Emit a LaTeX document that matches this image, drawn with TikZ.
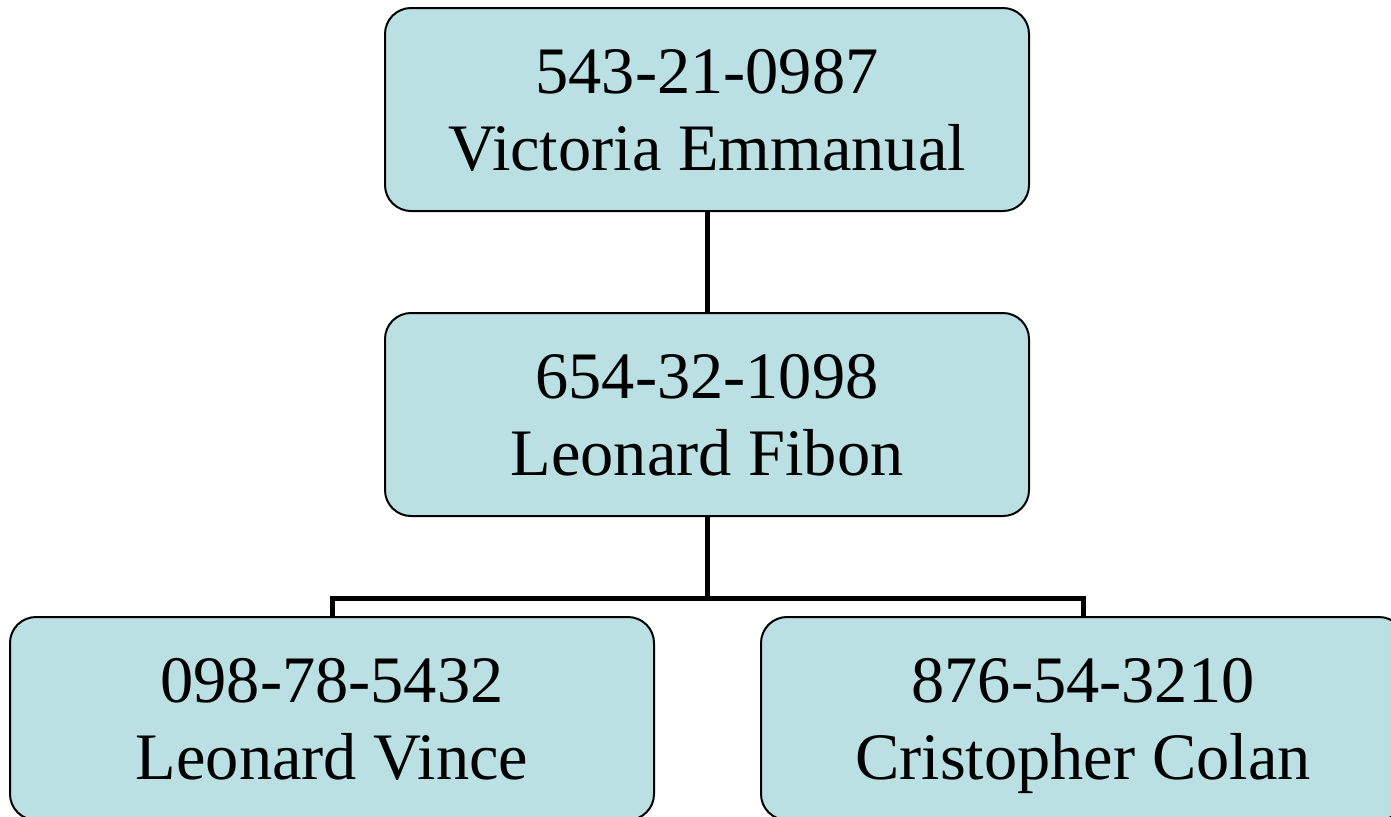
\documentclass[tikz,border=0pt]{standalone}
\usepackage{fontspec}
\setmainfont{Liberation Serif}
\usetikzlibrary{positioning}
\definecolor{boxfill}{RGB}{186,224,228}

\begin{document}
\begin{tikzpicture}[x=0.5pt,y=-0.5pt,
    person/.style={draw=black, line width=1pt, fill=boxfill, rounded corners=13pt,
      minimum width=322pt, minimum height=101.5pt, align=center,
      font=\fontsize{33.2}{38.5}\selectfont, text depth=0pt},
    link/.style={line width=2.5pt}]
    \useasboundingbox (0,0) rectangle (1391,816);
    \clip (0,0) rectangle (1391,816);

    % boss and manager
    \node[person] (boss) at (707,109.5) {543-21-0987\\Victoria Emmanual};
    \node[person] (manager) at (707,414.5) {654-32-1098\\Leonard Fibon};

    % staff
    \node[person] (staff1) at (332,718.5) {098-78-5432\\Leonard Vince};
    \node[person] (staff2) at (1083,718.5) {876-54-3210\\Cristopher Colan};

    \coordinate (split) at (707,598);
    \draw[link] (boss) -- (manager);
    \draw[link] (manager) -- (split);
    \foreach \to in {staff1,staff2}
    \draw[link] (split) -| (\to);
\end{tikzpicture}
\end{document}
